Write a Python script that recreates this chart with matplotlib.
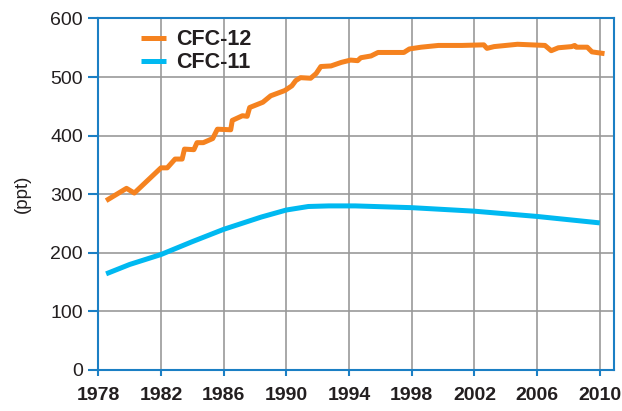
import matplotlib.pyplot as plt
from matplotlib import font_manager

# CFC-12 (ppt)
cfc12_years = [1978.5, 1979.8, 1980.3, 1982.0, 1982.4, 1982.9, 1983.35, 1983.5,
               1984.1, 1984.3, 1984.7, 1985.3, 1985.6, 1986.45, 1986.55, 1987.2,
               1987.5, 1987.66, 1988.5, 1989.0, 1989.9, 1990.35, 1990.6, 1990.9,
               1991.55, 1991.9, 1992.2, 1992.85, 1993.5, 1994.1, 1994.55, 1994.75,
               1995.4, 1995.85, 1997.5, 1997.85, 1998.6, 1999.7, 2001.2, 2002.6,
               2002.8, 2003.25, 2004.75, 2006.5, 2006.9, 2007.35, 2008.2, 2008.4,
               2008.5, 2009.2, 2009.5, 2010.3]
cfc12_vals = [289, 310, 302, 345, 345, 360, 360, 377,
              376, 388, 388, 395, 411, 410, 426, 434,
              433, 448, 457, 468, 477, 485, 494, 499,
              498, 506, 518, 519, 525, 529, 528, 533,
              536, 542, 542, 548, 551, 554, 554, 555,
              549, 552, 556, 554, 545, 550, 552, 554,
              551, 551, 543, 540]

# CFC-11 (ppt)
cfc11_years = [1978.5, 1980.0, 1982.0, 1984.0, 1986.0, 1988.4, 1990.0, 1991.4,
               1992.7, 1994.4, 1998.0, 2002.0, 2006.0, 2010.0]
cfc11_vals = [164, 180, 197, 219, 240, 261, 273, 279,
              280, 280, 277, 271, 262, 251]

xticks = [1978, 1982, 1986, 1990, 1994, 1998, 2002, 2006, 2010]
yticks = [0, 100, 200, 300, 400, 500, 600]

names = {f.name for f in font_manager.fontManager.ttflist}
narrow = 'Liberation Sans Narrow' if 'Liberation Sans Narrow' in names else None
plt.rcParams['font.family'] = ['Liberation Sans', 'DejaVu Sans']

spine_col = '#1b7fc4'
fig = plt.figure(figsize=(6.22, 4.11), dpi=100)
ax = fig.add_axes([0.158, 0.10, 0.829, 0.855])

ax.plot(cfc12_years, cfc12_vals, color='#f5821f', lw=3.6, label='CFC-12',
        solid_capstyle='butt', solid_joinstyle='round')
ax.plot(cfc11_years, cfc11_vals, color='#00b9f1', lw=3.6, label='CFC-11',
        solid_capstyle='butt')

ax.set_xlim(1978, 2010.9)
ax.set_ylim(0, 600)
ax.set_xticks(xticks)
ax.set_yticks(yticks)
ax.grid(True, color='#999999', lw=1.2)
ax.set_axisbelow(True)

for s in ['left', 'right', 'top', 'bottom']:
    ax.spines[s].set_color(spine_col)
    ax.spines[s].set_linewidth(1.5)

ax.tick_params(axis='y', colors=spine_col, length=7, width=1.5, labelsize=14,
               labelcolor='#231f20', pad=4)
ax.tick_params(axis='x', colors=spine_col, length=4, width=1.5, labelsize=14,
               labelcolor='#231f20', pad=8)
for lab in ax.get_xticklabels():
    if narrow:
        lab.set_family(narrow)
        lab.set_fontsize(16)
    lab.set_fontweight('bold')

ax.set_ylabel('(ppt)', fontsize=13.5, color='#231f20', labelpad=14)

leg = ax.legend(loc='upper left', bbox_to_anchor=(0.045, 1.025), frameon=False,
                handlelength=1.15, handletextpad=0.5, labelspacing=0.1,
                prop={'weight': 'bold', 'size': 15.5})
for t in leg.get_texts():
    t.set_color('#231f20')

fig.savefig('out.png', dpi=100)
